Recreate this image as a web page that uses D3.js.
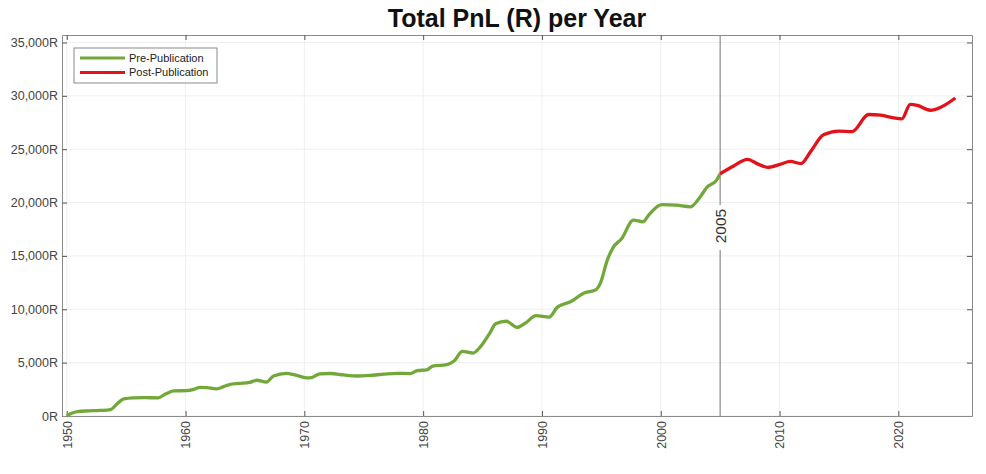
<!DOCTYPE html>
<html>
<head>
<meta charset="utf-8">
<script src="https://cdn.jsdelivr.net/npm/d3@7"></script>
<style>
  body { margin: 0; background: #fff; }
  text { font-family: "Liberation Sans", Arial, sans-serif; }
</style>
</head>
<body>
<div id="chart"></div>
<script>
// pre-publication (green) series
var preYears = [1950.0, 1950.4, 1950.9, 1951.8, 1952.8, 1953.7, 1954.2, 1954.8, 1955.6, 1956.6,
  1957.7, 1958.3, 1959.0, 1960.1, 1960.7, 1961.2, 1961.8, 1962.6, 1963.2, 1963.7,
  1964.5, 1965.4, 1966.0, 1966.8, 1967.4, 1968.5, 1969.2, 1970.2, 1970.6, 1971.3,
  1972.2, 1973.3, 1974.4, 1975.5, 1976.7, 1977.8, 1978.9, 1979.5, 1980.3, 1980.8,
  1982.0, 1982.6, 1983.3, 1984.2, 1984.8, 1985.6, 1986.1, 1987.0, 1987.9, 1988.6,
  1989.5, 1990.6, 1991.3, 1992.4, 1993.6, 1994.5, 1994.9, 1995.5, 1996.0, 1996.7,
  1997.7, 1998.5, 1999.0, 2000.1, 2001.3, 2002.5, 2003.3, 2003.9, 2004.7, 2005.0];
var preValues = [0, 250, 420, 480, 520, 600, 1100, 1600, 1700, 1720,
  1700, 2050, 2350, 2380, 2500, 2680, 2650, 2550, 2750, 2950,
  3050, 3150, 3350, 3180, 3750, 4000, 3850, 3580, 3600, 3950,
  3980, 3850, 3750, 3800, 3920, 4000, 3970, 4250, 4320, 4680,
  4820, 5150, 6050, 5900, 6450, 7750, 8650, 8880, 8300, 8700,
  9400, 9270, 10200, 10700, 11550, 11800, 12400, 14600, 15800, 16600,
  18350, 18200, 18850, 19800, 19750, 19600, 20500, 21450, 22100, 22700];

// post-publication (red) series
var postYears = [2005.0, 2006.1, 2007.3, 2008.2, 2009.0, 2010.1, 2010.9, 2011.8, 2012.6, 2013.7,
  2015.0, 2016.1, 2017.5, 2018.5, 2019.1, 2020.3, 2021.0, 2021.6, 2022.7, 2023.6, 2024.8];
var postValues = [22700, 23400, 24050, 23600, 23300, 23600, 23850, 23650, 24750, 26350,
  26700, 26650, 28250, 28200, 28050, 27850, 29200, 29100, 28650, 28950, 29800];

var xTicks = [1950, 1960, 1970, 1980, 1990, 2000, 2010, 2020];
var yTicks = [0, 5000, 10000, 15000, 20000, 25000, 30000, 35000];
var pubYear = 2005;

var W = 986, H = 474;
var margin = { top: 35, right: 14, bottom: 58, left: 62 };
var width = W - margin.left - margin.right;
var height = H - margin.top - margin.bottom;

var svg = d3.select("#chart").append("svg")
  .attr("width", W)
  .attr("height", H);

var g = svg.append("g")
  .attr("transform", "translate(" + margin.left + "," + margin.top + ")");

var x = d3.scaleLinear().domain([1949.6, 2026.2]).range([0, width]);
var y = d3.scaleLinear().domain([0, 35700]).range([height, 0]);

// grid
g.selectAll(".gx").data(xTicks).enter().append("line")
  .attr("x1", function(d) { return x(d); }).attr("x2", function(d) { return x(d); })
  .attr("y1", 0).attr("y2", height)
  .attr("stroke", "#efefef").attr("stroke-width", 1);
g.selectAll(".gy").data(yTicks).enter().append("line")
  .attr("x1", 0).attr("x2", width)
  .attr("y1", function(d) { return y(d); }).attr("y2", function(d) { return y(d); })
  .attr("stroke", "#efefef").attr("stroke-width", 1);

// axes (ticks pointing inward, MATLAB style)
var fmt = function(d) { return d3.format(",")(d) + "R"; };
var yAxis = g.append("g").call(d3.axisLeft(y).tickValues(yTicks).tickFormat(fmt).tickSizeInner(-5).tickSizeOuter(0).tickPadding(4));
var yAxisR = g.append("g").attr("transform", "translate(" + width + ",0)")
  .call(d3.axisRight(y).tickValues(yTicks).tickFormat("").tickSizeInner(-5).tickSizeOuter(0));
var xAxis = g.append("g").attr("transform", "translate(0," + height + ")")
  .call(d3.axisBottom(x).tickValues(xTicks).tickFormat(d3.format("d")).tickSizeInner(-5).tickSizeOuter(0));
var xAxisT = g.append("g")
  .call(d3.axisTop(x).tickValues(xTicks).tickFormat("").tickSizeInner(-5).tickSizeOuter(0));

[yAxis, yAxisR, xAxis, xAxisT].forEach(function(a) {
  a.select(".domain").attr("stroke", "#8a8a8a");
  a.selectAll(".tick line").attr("stroke", "#555");
});
yAxis.selectAll("text").attr("font-size", 12.5).attr("fill", "#444");
xAxis.selectAll("text")
  .attr("font-size", 12.5).attr("fill", "#444")
  .attr("transform", "rotate(-90)")
  .attr("text-anchor", "end")
  .attr("dy", "0.35em")
  .attr("x", -5).attr("y", 0);

// publication marker
g.append("line")
  .attr("x1", x(pubYear)).attr("x2", x(pubYear))
  .attr("y1", 0).attr("y2", height)
  .attr("stroke", "#8a8a8a").attr("stroke-width", 1.2);
g.append("rect")
  .attr("x", x(pubYear) - 8).attr("y", y(19770))
  .attr("width", 16).attr("height", 45)
  .attr("fill", "#fff");
g.append("text")
  .attr("transform", "translate(" + (x(pubYear) + 5.5) + "," + y(17800) + ") rotate(-90)")
  .attr("text-anchor", "middle")
  .attr("font-size", 15.5).attr("fill", "#333")
  .text(String(pubYear));

// lines
var line = d3.line()
  .x(function(d) { return x(d[0]); })
  .y(function(d) { return y(d[1]); })
  .curve(d3.curveMonotoneX);

var pre = preYears.map(function(d, i) { return [d, preValues[i]]; });
var post = postYears.map(function(d, i) { return [d, postValues[i]]; });

g.append("path").datum(pre).attr("d", line)
  .attr("fill", "none").attr("stroke", "#72a83a").attr("stroke-width", 3.3);
g.append("path").datum(post).attr("d", line)
  .attr("fill", "none").attr("stroke", "#e3121a").attr("stroke-width", 3.3);

// legend
var lg = g.append("g").attr("transform", "translate(12,13)");
lg.append("rect").attr("width", 143).attr("height", 35)
  .attr("fill", "#fff").attr("stroke", "#8a8a8a").attr("stroke-width", 1);
var items = [["Pre-Publication", "#72a83a"], ["Post-Publication", "#e3121a"]];
items.forEach(function(it, i) {
  var yy = 10 + i * 14.5;
  lg.append("line").attr("x1", 6).attr("x2", 51).attr("y1", yy).attr("y2", yy)
    .attr("stroke", it[1]).attr("stroke-width", 3);
  lg.append("text").attr("x", 55).attr("y", yy).attr("dy", "0.35em")
    .attr("font-size", 11).attr("fill", "#222").text(it[0]);
});

// title
svg.append("text")
  .attr("x", 517).attr("y", 27)
  .attr("text-anchor", "middle")
  .attr("font-size", 25).attr("font-weight", "bold").attr("fill", "#111")
  .text("Total PnL (R) per Year");
</script>
</body>
</html>
